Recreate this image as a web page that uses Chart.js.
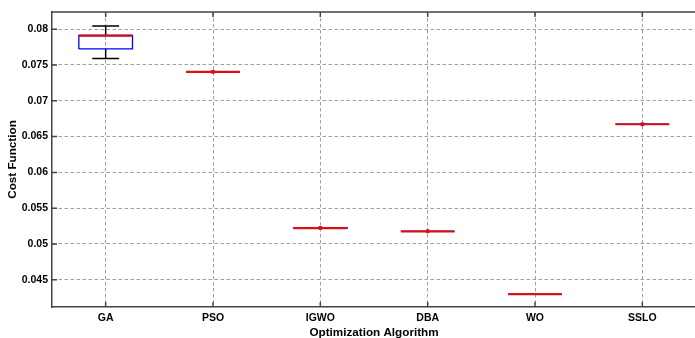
<!DOCTYPE html>
<html>
<head>
<meta charset="utf-8">
<script src="https://cdn.jsdelivr.net/npm/chart.js@4"></script>
<style>
  html, body { margin: 0; padding: 0; background: #fff; overflow: hidden; }
  #wrap { width: 701px; height: 346px; }
</style>
</head>
<body>
<div id="wrap"><canvas id="myChart" width="701" height="346"></canvas></div>
<script>
const categories = ["GA", "PSO", "IGWO", "DBA", "WO", "SSLO"];
const medians = [0.0791, 0.07405, 0.05222, 0.05176, 0.04299, 0.06672];
const q1 = [0.07725, 0.07405, 0.05222, 0.05176, 0.04299, 0.06672];
const q3 = [0.07912, 0.07405, 0.05228, 0.05176, 0.04299, 0.06672];
const whiskerLow = [0.07591, 0.07405, 0.05222, 0.05176, 0.04299, 0.06672];
const whiskerHigh = [0.08046, 0.07405, 0.05228, 0.05176, 0.04299, 0.06672];
const markers = [null, 0.07405, 0.05225, 0.05178, null, 0.06672];
const yTicks = [0.045, 0.05, 0.055, 0.06, 0.065, 0.07, 0.075, 0.08];

const font = "'Liberation Sans', Arial, Helvetica, sans-serif";
const red = "#d4101c";

// box outlines, whiskers, medians built as line segments split by gaps
const boxPts = [], whiskPts = [], medPts = [], markPts = [];
categories.forEach((c, i) => {
  const x = i + 1;
  boxPts.push({x: x - 0.25, y: q1[i]}, {x: x + 0.25, y: q1[i]}, {x: x + 0.25, y: q3[i]},
              {x: x - 0.25, y: q3[i]}, {x: x - 0.25, y: q1[i]}, {x: x, y: null});
  if (whiskerHigh[i] > q3[i]) {
    whiskPts.push({x: x, y: q3[i]}, {x: x, y: whiskerHigh[i]}, {x: x, y: null});
    whiskPts.push({x: x - 0.125, y: whiskerHigh[i]}, {x: x + 0.125, y: whiskerHigh[i]}, {x: x, y: null});
  }
  if (whiskerLow[i] < q1[i]) {
    whiskPts.push({x: x, y: q1[i]}, {x: x, y: whiskerLow[i]}, {x: x, y: null});
    whiskPts.push({x: x - 0.125, y: whiskerLow[i]}, {x: x + 0.125, y: whiskerLow[i]}, {x: x, y: null});
  }
  medPts.push({x: x - 0.25, y: medians[i]}, {x: x + 0.25, y: medians[i]}, {x: x, y: null});
  if (markers[i] !== null) markPts.push({x: x, y: markers[i]});
});

// closes the frame at the top and adds the small inward tick marks
const frame = {
  id: "frame",
  afterDraw(chart) {
    const {ctx, chartArea, scales} = chart;
    ctx.save();
    ctx.strokeStyle = "#444";
    ctx.lineWidth = 1.5;
    ctx.beginPath();
    ctx.moveTo(chartArea.left, chartArea.top);
    ctx.lineTo(chartArea.right, chartArea.top);
    yTicks.forEach((v) => {
      const y = scales.y.getPixelForValue(v);
      ctx.moveTo(chartArea.left, y);
      ctx.lineTo(chartArea.left + 5, y);
    });
    categories.forEach((c, i) => {
      const x = scales.x.getPixelForValue(i + 1);
      ctx.moveTo(x, chartArea.bottom);
      ctx.lineTo(x, chartArea.bottom - 5);
      ctx.moveTo(x, chartArea.top);
      ctx.lineTo(x, chartArea.top + 5);
    });
    ctx.stroke();
    ctx.restore();
  }
};

const ctx = document.getElementById("myChart");
const chart = new Chart(ctx, {
  type: "scatter",
  data: {
    datasets: [
      { data: markPts, order: 0, showLine: false, pointStyle: "rect", pointRadius: 2, backgroundColor: red, borderColor: red, borderWidth: 1 },
      { data: medPts, order: 1, showLine: true, spanGaps: false, borderColor: red, borderWidth: 2.2, pointRadius: 0 },
      { data: boxPts, order: 2, showLine: true, spanGaps: false, borderColor: "#0000ff", borderWidth: 1.3, pointRadius: 0 },
      { data: whiskPts, order: 3, showLine: true, spanGaps: false, borderColor: "#000", borderWidth: 1.5, pointRadius: 0 },
    ],
  },
  options: {
    responsive: false,
    animation: false,
    devicePixelRatio: 1,
    layout: { padding: { top: 12, right: 1, left: 0, bottom: 0 } },
    plugins: { legend: { display: false }, tooltip: { enabled: false } },
    scales: {
      x: {
        type: "linear",
        min: 0.5,
        max: 6.5,
        afterBuildTicks: (s) => { s.ticks = categories.map((c, i) => ({ value: i + 1 })); },
        afterFit: (s) => { s.height = 39; },
        ticks: {
          callback: (v) => categories[Math.round(v) - 1] || "",
          font: { family: font, size: 10.5, weight: "bold" },
          color: "#000",
          padding: 5,
          maxRotation: 0,
        },
        grid: { color: "#a0a0a0", lineWidth: 1, drawTicks: false },
        border: { color: "#444", width: 1.5, dash: [3.5, 2.5] },
        title: { display: true, text: "Optimization Algorithm", color: "#000",
                 font: { family: font, size: 11.7, weight: "bold" }, padding: { top: 1, bottom: 6 } },
      },
      y: {
        min: 0.0412,
        max: 0.0824,
        afterBuildTicks: (s) => { s.ticks = yTicks.map((v) => ({ value: v })); },
        afterFit: (s) => { s.width = 52; },
        ticks: {
          callback: (v) => String(+v.toFixed(3)),
          font: { family: font, size: 10.5, weight: "bold" },
          color: "#000",
          padding: 4,
        },
        grid: { color: "#a0a0a0", lineWidth: 1, drawTicks: false },
        border: { color: "#444", width: 1.5, dash: [3.5, 2.5] },
        title: { display: true, text: "Cost Function", color: "#000",
                 font: { family: font, size: 11.7, weight: "bold" }, padding: { top: 6, bottom: 2 } },
      },
    },
  },
  plugins: [frame],
});
</script>
</body>
</html>
